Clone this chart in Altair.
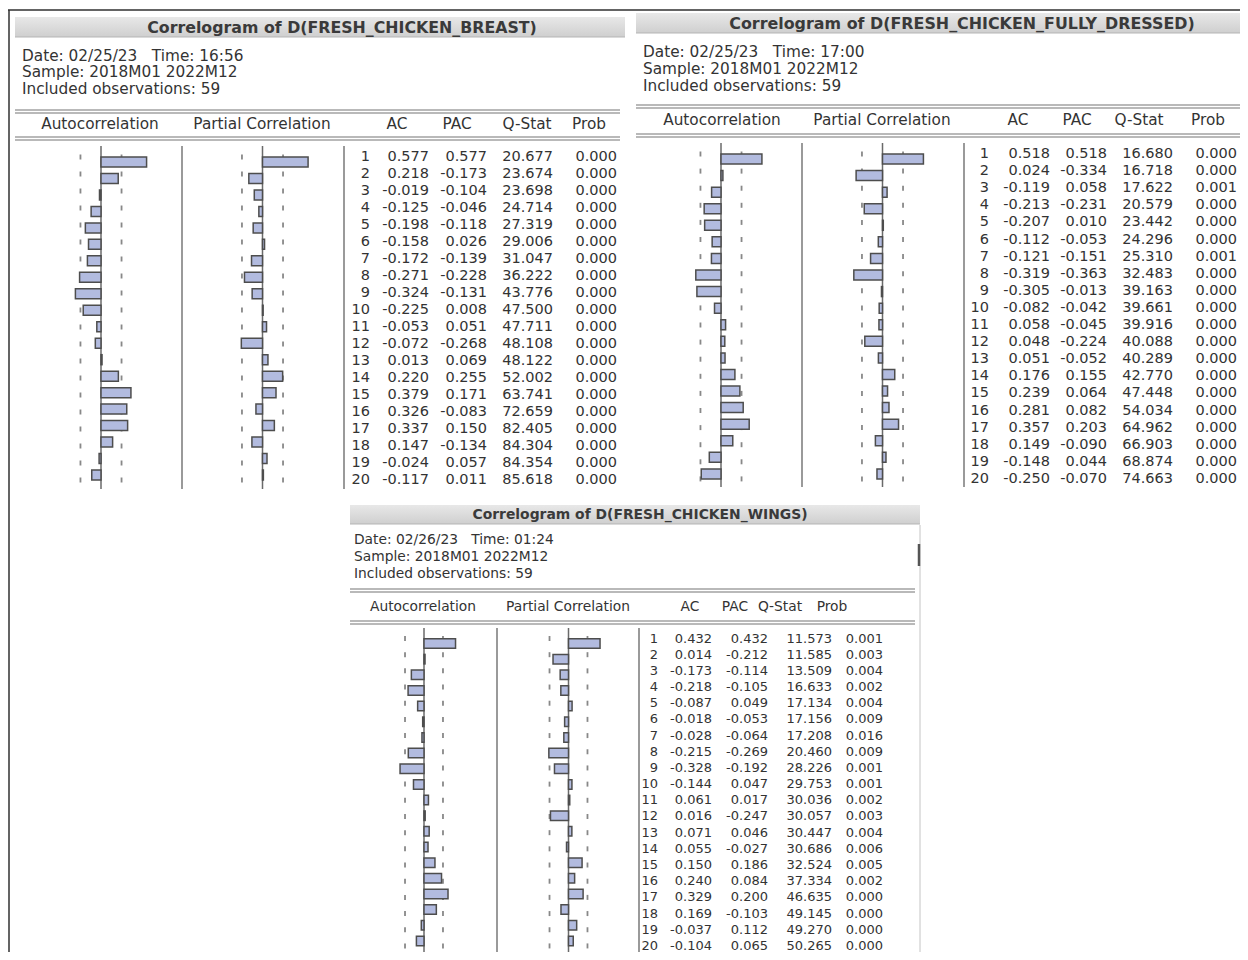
import altair as alt
import pandas as pd

# ---------------- data ----------------
lags = list(range(1, 21))

breast_ac = [0.577, 0.218, -0.019, -0.125, -0.198, -0.158, -0.172, -0.271, -0.324, -0.225,
             -0.053, -0.072, 0.013, 0.220, 0.379, 0.326, 0.337, 0.147, -0.024, -0.117]
breast_pac = [0.577, -0.173, -0.104, -0.046, -0.118, 0.026, -0.139, -0.228, -0.131, 0.008,
              0.051, -0.268, 0.069, 0.255, 0.171, -0.083, 0.150, -0.134, 0.057, 0.011]
breast_q = [20.677, 23.674, 23.698, 24.714, 27.319, 29.006, 31.047, 36.222, 43.776, 47.500,
            47.711, 48.108, 48.122, 52.002, 63.741, 72.659, 82.405, 84.304, 84.354, 85.618]
breast_prob = [0.000] * 20

dressed_ac = [0.518, 0.024, -0.119, -0.213, -0.207, -0.112, -0.121, -0.319, -0.305, -0.082,
              0.058, 0.048, 0.051, 0.176, 0.239, 0.281, 0.357, 0.149, -0.148, -0.250]
dressed_pac = [0.518, -0.334, 0.058, -0.231, 0.010, -0.053, -0.151, -0.363, -0.013, -0.042,
               -0.045, -0.224, -0.052, 0.155, 0.064, 0.082, 0.203, -0.090, 0.044, -0.070]
dressed_q = [16.680, 16.718, 17.622, 20.579, 23.442, 24.296, 25.310, 32.483, 39.163, 39.661,
             39.916, 40.088, 40.289, 42.770, 47.448, 54.034, 64.962, 66.903, 68.874, 74.663]
dressed_prob = [0.000, 0.000, 0.001, 0.000, 0.000, 0.000, 0.001, 0.000, 0.000, 0.000,
                0.000, 0.000, 0.000, 0.000, 0.000, 0.000, 0.000, 0.000, 0.000, 0.000]

wings_ac = [0.432, 0.014, -0.173, -0.218, -0.087, -0.018, -0.028, -0.215, -0.328, -0.144,
            0.061, 0.016, 0.071, 0.055, 0.150, 0.240, 0.329, 0.169, -0.037, -0.104]
wings_pac = [0.432, -0.212, -0.114, -0.105, 0.049, -0.053, -0.064, -0.269, -0.192, 0.047,
             0.017, -0.247, 0.046, -0.027, 0.186, 0.084, 0.200, -0.103, 0.112, 0.065]
wings_q = [11.573, 11.585, 13.509, 16.633, 17.134, 17.156, 17.208, 20.460, 28.226, 29.753,
           30.036, 30.057, 30.447, 30.686, 32.524, 37.334, 46.635, 49.145, 49.270, 50.265]
wings_prob = [0.001, 0.003, 0.004, 0.002, 0.004, 0.009, 0.016, 0.009, 0.001, 0.001,
              0.002, 0.003, 0.004, 0.006, 0.005, 0.002, 0.000, 0.000, 0.000, 0.000]

titles = ["Correlogram of D(FRESH_CHICKEN_BREAST)",
          "Correlogram of D(FRESH_CHICKEN_FULLY_DRESSED)",
          "Correlogram of D(FRESH_CHICKEN_WINGS)"]
date_lines = ["Date: 02/25/23\u00a0\u00a0\u00a0Time: 16:56",
              "Date: 02/25/23\u00a0\u00a0\u00a0Time: 17:00",
              "Date: 02/26/23\u00a0\u00a0\u00a0Time: 01:24"]
sample_line = "Sample: 2018M01 2022M12"
obs_line = "Included observations: 59"
headers = ["Autocorrelation", "Partial Correlation", "AC", "PAC", "Q-Stat", "Prob"]
BOUND = 0.26  # +/- 2 s.e. band shown as dashes

# ---------------- style ----------------
FONT = "DejaVu Sans"
TXT = "#333333"
BAR_FILL = "#b2bbdf"
BAR_STROKE = "#4d4d4d"
ONE = alt.Data(values=[{"k": 0}])


def px(v):
    return v - 8


def frame(ac, pac, q, prob):
    return pd.DataFrame({
        "lag": lags, "ac": ac, "pac": pac, "q": q, "prob": prob,
        "lag_s": [str(v) for v in lags],
        "ac_s": [f"{v:.3f}" for v in ac],
        "pac_s": [f"{v:.3f}" for v in pac],
        "q_s": [f"{v:.3f}" for v in q],
        "prob_s": [f"{v:.3f}" for v in prob],
        "bound": [BOUND] * 20,
        "nbound": [-BOUND] * 20,
    })


def vrule(x, y1, y2, color, w):
    return alt.Chart(ONE).mark_rule(color=color, strokeWidth=w).encode(
        x=alt.value(px(x)), y=alt.value(px(y1)), y2=alt.value(px(y2)))


def hrule(x1, x2, y, color, w):
    return alt.Chart(ONE).mark_rule(color=color, strokeWidth=w).encode(
        x=alt.value(px(x1)), x2=alt.value(px(x2)), y=alt.value(px(y)))


def label(x, y, text, size, align="left", weight="normal", color=TXT):
    return alt.Chart(ONE).mark_text(text=text, align=align, baseline="middle", fontSize=size,
                                    fontWeight=weight, font=FONT, color=color).encode(
        x=alt.value(px(x)), y=alt.value(px(y)))


def title_bar(x1, x2, y1, y2, cx, text, size):
    grad = alt.Gradient(gradient="linear",
                        stops=[alt.GradientStop(color="#e8e8e8", offset=0),
                               alt.GradientStop(color="#cfcfcf", offset=1)],
                        x1=0, x2=0, y1=0, y2=1)
    rect = alt.Chart(ONE).mark_rect(color=grad).encode(
        x=alt.value(px(x1)), x2=alt.value(px(x2)), y=alt.value(px(y1)), y2=alt.value(px(y2)))
    return [rect, hrule(x1, x2, y2, "#b5b5b5", 1),
            label(cx, (y1 + y2) / 2 + 0.5, text, size, align="center", weight="bold",
                  color="#3a3a3a")]


def panel(df, g):
    L = []
    L += title_bar(g["x1"], g["x2"], g["ty1"], g["ty2"], g["tcx"], g["title"], g["tfs"])
    for i, t in enumerate([g["date"], sample_line, obs_line]):
        L.append(label(g["ix"], g["iy"][i], t, g["ifs"]))
    for yy in g["dbl"]:
        L.append(hrule(g["x1"], g["lx2"], yy, "#a2a2a2", 1.6))
        L.append(hrule(g["x1"], g["lx2"], yy + 3, "#a2a2a2", 1.6))
    for h, hx in zip(headers, g["hx"]):
        L.append(label(hx, g["hy"], h, g["hfs"], align="center"))
    y1, step = g["ry"], g["rs"]
    ys = alt.Scale(domain=[1, 20], range=[px(y1), px(y1 + 19 * step)])
    for sx in g["sep"]:
        L.append(vrule(sx, g["ly1"], g["ly2"], "#9a9a9a", 2))
    for field, zx in [("ac", g["acz"]), ("pac", g["pacz"])]:
        xs = alt.Scale(domain=[-1, 1], range=[px(zx - g["k"]), px(zx + g["k"])])
        L.append(vrule(zx, g["ly1"], g["ly2"], "#6a6a6a", 1.5))
        for b in ["bound", "nbound"]:
            L.append(alt.Chart(df).mark_tick(orient="vertical", size=5, thickness=1.8,
                                             color="#555555").encode(
                x=alt.X(f"{b}:Q", scale=xs, axis=None),
                y=alt.Y("lag:Q", scale=ys, axis=None)))
        L.append(alt.Chart(df).mark_bar(orient="horizontal", size=g["bh"], fill=BAR_FILL,
                                        stroke=BAR_STROKE, strokeWidth=1.5).encode(
            x=alt.X(f"{field}:Q", scale=xs, axis=None),
            x2=alt.datum(0),
            y=alt.Y("lag:Q", scale=ys, axis=None)))
    for col, rx in zip(["lag_s", "ac_s", "pac_s", "q_s", "prob_s"], g["tx"]):
        L.append(alt.Chart(df).mark_text(align="right", baseline="middle", fontSize=g["tfs2"],
                                         font=FONT, color=TXT).encode(
            x=alt.value(px(rx)),
            y=alt.Y("lag:Q", scale=ys, axis=None),
            text=alt.Text(f"{col}:N")))
    return L


g1 = dict(x1=15, x2=625, lx2=620, ty1=17, ty2=37, tcx=342, title=titles[0], tfs=15.8,
          date=date_lines[0], ix=22, iy=[56, 72, 89], ifs=15.3,
          dbl=[110, 137], hx=[100, 262, 397, 457, 527, 589], hy=124, hfs=15.3,
          ry=157, rs=17.0, sep=[182, 344], ly1=146, ly2=489, bh=10,
          acz=101, pacz=262.5, k=79, tx=[370, 429, 487, 553, 617], tfs2=14.5)
g2 = dict(x1=636, x2=1240, lx2=1240, ty1=13, ty2=33, tcx=962, title=titles[1], tfs=15.9,
          date=date_lines[1], ix=643, iy=[52, 69, 86], ifs=15.3,
          dbl=[105, 134], hx=[722, 882, 1018, 1077, 1139, 1208], hy=120, hfs=15.3,
          ry=154, rs=17.1, sep=[802, 964], ly1=143, ly2=487, bh=10,
          acz=721, pacz=882.5, k=79, tx=[989, 1050, 1107, 1173, 1237], tfs2=14.5)
g3 = dict(x1=350, x2=920, lx2=915, ty1=505, ty2=524, tcx=640, title=titles[2], tfs=13.9,
          date=date_lines[2], ix=354, iy=[540, 557, 574], ifs=13.8,
          dbl=[589, 621], hx=[423, 568, 690, 735, 780, 832], hy=607, hfs=13.8,
          ry=638.5, rs=16.18, sep=[497, 639], ly1=628, ly2=962, bh=9.5,
          acz=424, pacz=568.5, k=73, tx=[658, 712, 768, 832, 883], tfs2=13)

layers = []
# outer window frame
layers.append(hrule(8, 1244, 10, "#303030", 1.5))
layers.append(vrule(9, 10, 965, "#303030", 1.5))
layers.append(vrule(1243, 10, 965, "#303030", 1.5))
layers += panel(frame(breast_ac, breast_pac, breast_q, breast_prob), g1)
layers += panel(frame(dressed_ac, dressed_pac, dressed_q, dressed_prob), g2)
layers += panel(frame(wings_ac, wings_pac, wings_q, wings_prob), g3)
# third window's right edge and scroll thumb
layers.append(vrule(920, 525, 965, "#c4c4c4", 1))
layers.append(vrule(919, 544, 566, "#555555", 2.5))

chart = alt.layer(*layers).resolve_scale(x="independent", y="independent").properties(
    width=1232, height=944, padding=0,
    autosize=alt.AutoSizeParams(type="none"),
).configure_view(strokeWidth=0)

chart.save("out.html", embed_options={"renderer": "svg", "actions": False})
